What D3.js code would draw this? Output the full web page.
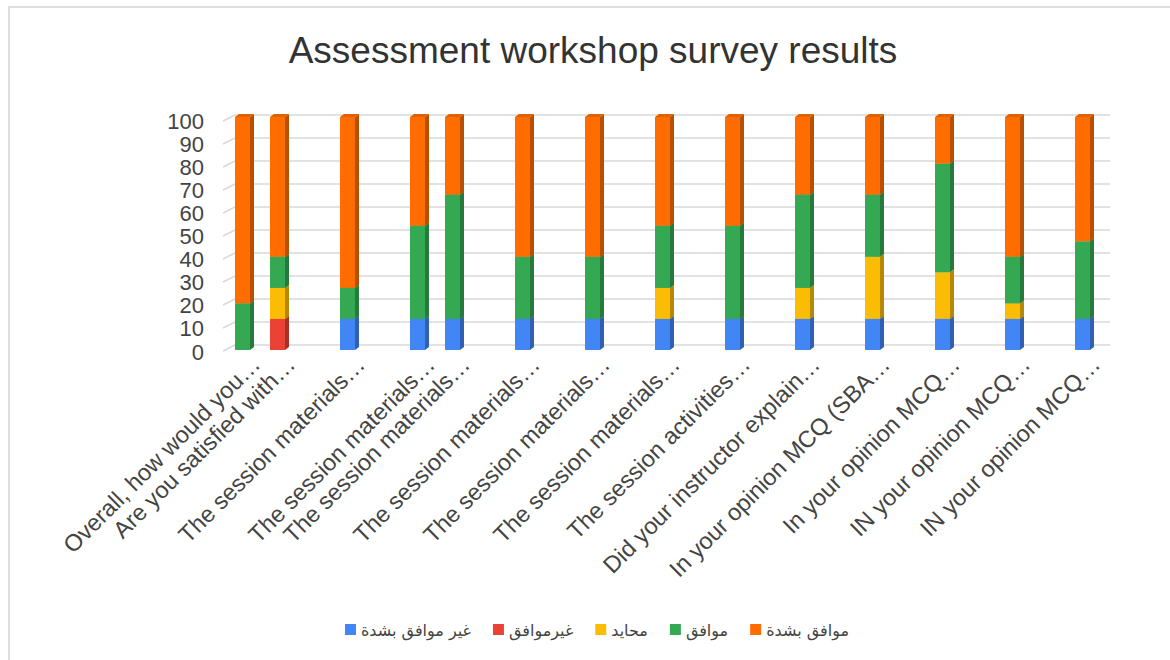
<!DOCTYPE html>
<html>
<head>
<meta charset="utf-8">
<script src="https://cdn.jsdelivr.net/npm/d3@7"></script>
<style>
  html, body { margin: 0; padding: 0; background: #fff; }
  svg { display: block; }
</style>
</head>
<body>
<svg id="chart" width="1170" height="660"></svg>
<script>
// ---------------- DATA ----------------
const title = "Assessment workshop survey results";
const B = null; // blank rows in the source sheet (no bar, no label)
const categories = [
  "Overall, how would you…", "Are you satisfied with…", "",
  "The session materials…", "", "The session materials…", "The session materials…", "",
  "The session materials…", "", "The session materials…", "", "The session materials…", "",
  "The session activities…", "", "Did your instructor explain…", "",
  "In your opinion MCQ (SBA…", "", "In your opinion MCQ…", "",
  "IN your opinion MCQ…", "", "IN your opinion MCQ…"
];
const seriesNames = ["غير موافق بشدة", "غيرموافق", "محايد", "موافق", "موافق بشدة"];
const stronglyDisagree = [0, 0, B, 13.33, B, 13.33, 13.33, B, 13.33, B, 13.33, B, 13.33, B, 13.33, B, 13.33, B, 13.33, B, 13.33, B, 13.33, B, 13.33];
const disagree         = [0, 13.33, B, 0, B, 0, 0, B, 0, B, 0, B, 0, B, 0, B, 0, B, 0, B, 0, B, 0, B, 0];
const neutral          = [0, 13.33, B, 0, B, 0, 0, B, 0, B, 0, B, 13.33, B, 0, B, 13.33, B, 26.67, B, 20, B, 6.67, B, 0];
const agree            = [20, 13.33, B, 13.33, B, 40, 53.33, B, 26.67, B, 26.67, B, 26.67, B, 40, B, 40, B, 26.67, B, 46.67, B, 20, B, 33.33];
const stronglyAgree    = [80, 60, B, 73.33, B, 46.67, 33.33, B, 60, B, 60, B, 46.67, B, 46.67, B, 33.33, B, 33.33, B, 20, B, 60, B, 53.33];
const yTicks = [0, 10, 20, 30, 40, 50, 60, 70, 80, 90, 100];

// ---------------- STYLE ----------------
const colors = ["#4285F4", "#EA4335", "#FBBC04", "#34A853", "#FF6D01"];
const sideColors = colors.map(c => d3.color(c).darker(0.9).formatHex());
const topColors = colors.map(c => d3.color(c).darker(0.35).formatHex());
const textColor = "#444444";
const font = "'Liberation Sans', Arial, sans-serif";

// ---------------- BUILD ----------------
const svg = d3.select("#chart");
const W = 1170, H = 660;

// frame
svg.append("rect").attr("x", 9).attr("y", 7).attr("width", W + 20).attr("height", H + 20)
  .attr("fill", "#fff").attr("stroke", "#d6d6d6").attr("stroke-width", 1.6);

svg.append("text").attr("x", 593).attr("y", 63).attr("text-anchor", "middle")
  .attr("font-family", font).attr("font-size", 37).attr("fill", "#333")
  .text(title);

const series = [stronglyDisagree, disagree, neutral, agree, stronglyAgree];
const rows = categories.map((c, i) => {
  const r = { idx: i, cat: c };
  series.forEach((s, k) => r["s" + k] = s[i] == null ? 0 : s[i]);
  return r;
});
const keys = series.map((s, k) => "s" + k);
const stacked = d3.stack().keys(keys)(rows);

const x = d3.scaleBand().domain(rows.map(r => r.idx)).range([226, 1101]).padding(0);
const barW = 15;
const barOff = (x.bandwidth() - barW) / 2 - 1;
const yBar = d3.scaleLinear().domain([0, 100]).range([350, 117]);
const yGrid = d3.scaleLinear().domain([0, 100]).range([345, 115]);
const depthX = 4, depthY = -3;

// gridlines (3D back wall + floor diagonal)
const grid = svg.append("g");
yTicks.forEach(v => {
  const gy = yGrid(v);
  grid.append("path")
    .attr("d", `M223,${gy + 6}L235,${gy}L1110,${gy}`)
    .attr("fill", "none").attr("stroke", "#d9d9d9").attr("stroke-width", 1.6);
});

// y axis labels via d3 axis
const yLabelScale = d3.scaleLinear().domain([0, 100]).range([352, 121]);
const yAxis = svg.append("g").attr("transform", "translate(204,0)")
  .call(d3.axisLeft(yLabelScale).tickValues(yTicks).tickSize(0).tickPadding(0));
yAxis.select(".domain").remove();
yAxis.selectAll("text").attr("font-family", font).attr("font-size", 22).attr("fill", textColor);

// bars
stacked.forEach((layer, k) => {
  const g = svg.append("g");
  layer.forEach((d, i) => {
    if (d[1] - d[0] <= 0) return;
    const x0 = x(rows[i].idx) + barOff;
    const yT = yBar(d[1]), yB = yBar(d[0]);
    g.append("rect").attr("x", x0).attr("y", yT).attr("width", barW).attr("height", yB - yT)
      .attr("fill", colors[k]);
    g.append("path")
      .attr("d", `M${x0 + barW},${yB}L${x0 + barW + depthX},${yB + depthY}L${x0 + barW + depthX},${yT + depthY}L${x0 + barW},${yT}Z`)
      .attr("fill", sideColors[k]);
    g.append("path")
      .attr("d", `M${x0},${yT}L${x0 + depthX},${yT + depthY}L${x0 + barW + depthX},${yT + depthY}L${x0 + barW},${yT}Z`)
      .attr("fill", topColors[k]);
  });
});

// x labels
const xl = svg.append("g");
rows.forEach(r => {
  if (!r.cat) return;
  const cx = x(r.idx) + x.bandwidth() / 2 + 18;
  xl.append("text")
    .attr("transform", `translate(${cx},366) rotate(-45)`)
    .attr("text-anchor", "end")
    .attr("font-family", font).attr("font-size", 23.5).attr("fill", textColor)
    .text(r.cat);
});

// legend
const leg = svg.append("g");
const items = seriesNames.map((n, k) => {
  const g = leg.append("g");
  g.append("rect").attr("width", 11).attr("height", 11).attr("y", -6).attr("fill", colors[k]);
  const t = g.append("text").attr("x", 16).attr("y", 0).attr("dy", "0.35em")
    .attr("font-family", "'DejaVu Sans', sans-serif").attr("font-size", 16).attr("fill", textColor)
    .text(n);
  return { g, w: 16 + t.node().getComputedTextLength() };
});
const gap = 22;
const total = d3.sum(items, d => d.w) + gap * (items.length - 1);
let lx = 597 - total / 2;
items.forEach(it => {
  it.g.attr("transform", `translate(${lx},630)`);
  lx += it.w + gap;
});
</script>
</body>
</html>
